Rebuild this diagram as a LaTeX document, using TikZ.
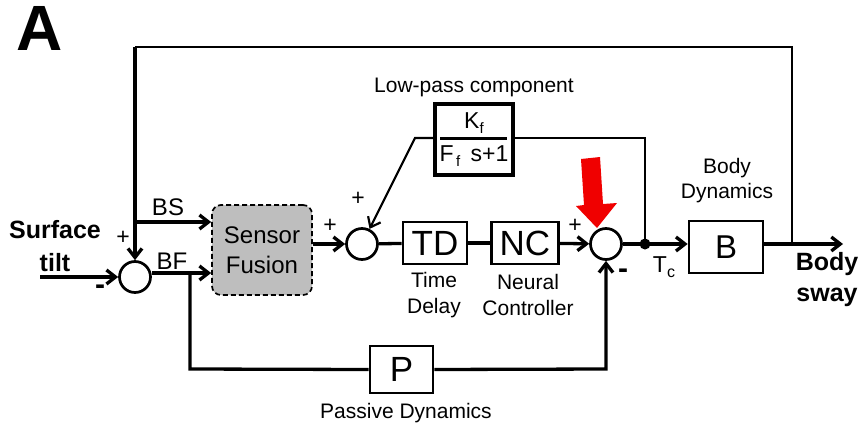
\documentclass[tikz,border=0pt]{standalone}
\usepackage{fontspec}
\setmainfont{Liberation Sans}
\usetikzlibrary{arrows.meta}
\definecolor{sfgray}{RGB}{190,190,190}
\definecolor{redarrow}{RGB}{240,0,0}
\newcommand{\fs}[1]{\fontsize{#1}{#1}\selectfont}
\begin{document}
\begin{tikzpicture}[x=1pt,y=-1pt,
  sig/.style={line width=3.3pt},
  thin/.style={line width=2.2pt},
  arr/.style={sig,-{Straight Barb[length=9pt,width=14pt]}},
  tarr/.style={thin,-{Straight Barb[length=9pt,width=14pt]}},
  sumnode/.style={circle,draw,line width=2.7pt,minimum size=31pt,inner sep=0pt},
  blk/.style={draw,line width=2.7pt,inner sep=0pt},
  lbl/.style={font=\fs{21},align=center,inner sep=0pt},
  sgn/.style={font=\fs{23},inner sep=0pt},
  msgn/.style={font=\bfseries\fs{30},inner sep=0pt},
  boldlbl/.style={font=\bfseries\fs{25},inner sep=0pt},
]
\useasboundingbox (0,0) rectangle (860,426);

% panel letter
\node[font=\bfseries\fs{64},inner sep=0pt] (A) at (39.5,28) {A};

% nodes
\node[sumnode] (s1) at (135,277) {};
\node[sumnode] (s2) at (362,244) {};
\node[sumnode] (s3) at (606,244) {};
\node[draw,dash pattern=on 5pt off 3pt,line width=1.7pt,rounded corners=9pt,fill=sfgray,
      minimum width=100pt,minimum height=90pt,inner sep=0pt,
      font=\fs{24},align=center] (sf) at (262,250) {Sensor\\[6pt]Fusion};
\node[blk,minimum width=64pt,minimum height=42pt,font=\fs{35}] (td) at (435,243) {TD};
\node[blk,minimum width=67pt,minimum height=42pt,font=\fs{35}] (nc) at (525,243) {NC};
\node[blk,minimum width=74pt,minimum height=52pt,font=\fs{33}] (b) at (726,247) {B};
\node[blk,minimum width=63pt,minimum height=47pt,font=\fs{35}] (p) at (401.5,369.5) {P};
\node[draw,line width=4.5pt,minimum width=78pt,minimum height=71pt,inner sep=0pt] (kf) at (474,139.5) {};
\node[font=\fs{23},inner sep=0pt] (kfn) at (474,123) {K\raisebox{-0.35ex}{\fs{15}f}};
\node[font=\fs{23},inner sep=0pt] (kfd) at (474,156) {F\raisebox{-0.35ex}{\fs{15}\,f}\, s+1};
\draw[line width=3pt] (440,138) -- (507,138);

\fill (645,244) circle (5.5pt);
\coordinate (dot) at (645,244);
\coordinate (tl) at (135,47);
\coordinate (tr) at (792,47);
\coordinate (outj) at (792,244);
\coordinate (out) at (843,244);
\coordinate (in) at (40,277);
\coordinate (bsj) at (135,222);
\coordinate (bfj) at (190,273);
\coordinate (pl) at (190,369);
\coordinate (pr) at (606,369);
\coordinate (kfr) at (645,138);
\coordinate (kfl) at (415,138);

% connectors
\draw[thin] (tl) -- (tr) -- (outj);
\draw[arr] (tl) -- (s1);
\draw[arr] (bsj) -- (bsj -| sf.west);
\draw[arr] (in) -- (s1);
\draw[arr] (s1.east |- bfj) -- (bfj -| sf.west);
\draw[sig] (bfj) -- (pl) -- (p.west);
\draw[arr] (p.east) -- (pr) -- (s3);
\draw[arr] (sf.east |- s2) -- (s2);
\draw[sig] (s2) -- (td);
\draw[sig] (td) -- (nc);
\draw[arr] (nc) -- (s3);
\draw[sig] (s3) -- (dot);
\draw[arr] (dot) -- (b.west |- dot);
\draw[arr] (b.east |- out) -- (out);
\draw[thin] (dot) -- (kfr) -- (kf.east |- kfr);
\draw[tarr] (kf.west |- kfl) -- (kfl) -- (s2);

% red arrow
\fill[redarrow] (581,159) -- (600,157) -- (603,204) -- (617,203) -- (597,228) -- (576,206) -- (584,205) -- cycle;

% labels
\node[boldlbl] (surf) at (55,230) {Surface};
\node[boldlbl] (tilt) at (55,263) {tilt};
\node[boldlbl] (bod) at (827,264) {Body};
\node[boldlbl] (sway) at (827,297) {sway};
\node[sgn] (pl1) at (123,238) {+};
\node[msgn] (mi1) at (100,290) {-};
\node[font=\fs{24},inner sep=0pt] (bs) at (168,207) {BS};
\node[font=\fs{24},inner sep=0pt] (bf) at (172,261) {BF};
\node[sgn] (pl2) at (330,226) {+};
\node[sgn] (pl3) at (358,199) {+};
\node[sgn] (pl4) at (575,226) {+};
\node[msgn] (mi3) at (623,274) {-};
\node[font=\fs{23},inner sep=0pt] (tc) at (664,267) {T\raisebox{-0.4ex}{\fs{16}c}};
\node[lbl] (tdl) at (434,295) {Time\\[5pt]Delay};
\node[lbl] (ncl) at (528,295) {Neural\\[5pt]Controller};
\node[lbl] (bdl) at (727,181) {Body\\[4pt]Dynamics};
\node[lbl] (lpl) at (474,87) {Low-pass component};
\node[lbl] (pdl) at (406,413) {Passive Dynamics};
\end{tikzpicture}
\end{document}
